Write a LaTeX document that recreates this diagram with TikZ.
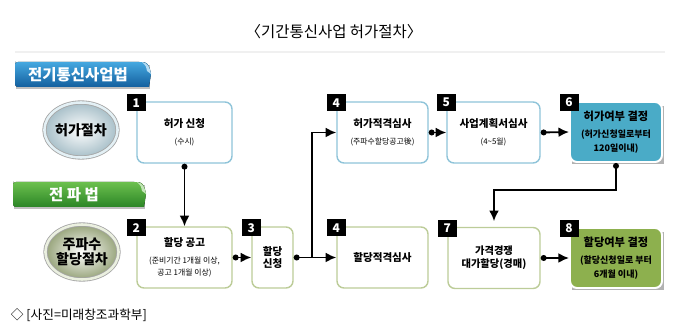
\documentclass[tikz,border=0pt]{standalone}
\usepackage{fontspec}
\setmainfont{Noto Sans CJK KR}
\usepackage{xcolor}
\usetikzlibrary{arrows.meta,shapes.geometric,shadows}

\definecolor{permline}{HTML}{8FC4D9}
\definecolor{allocline}{HTML}{BCCC98}
\definecolor{permfill}{HTML}{4AABC7}
\definecolor{allocfill}{HTML}{8DB04E}
\definecolor{lawblueA}{HTML}{45A8E0}
\definecolor{lawblueB}{HTML}{135F9E}
\definecolor{lawgreenA}{HTML}{6CC04E}
\definecolor{lawgreenB}{HTML}{2B8526}
\newcommand{\subtxt}{\fontsize{5.6}{6.8}\selectfont\mdseries}
\newcommand{\restxt}{\fontsize{6.4}{7.6}\selectfont}

\begin{document}
\begin{tikzpicture}[x=0.025cm, y=-0.025cm,
  proc/.style={draw, rounded corners=5pt, line width=1pt, fill=white,
    minimum height=1.525cm, inner sep=1pt, align=center,
    font=\fontsize{7.5}{9}\selectfont\bfseries},
  permproc/.style={proc, draw=permline},
  allocproc/.style={proc, draw=allocline},
  result/.style={proc, draw=white, line width=1.4pt, minimum height=1.5cm,
    font=\fontsize{8}{9.5}\selectfont\bfseries},
  badge/.style={fill=black, text=white, minimum width=0.475cm,
    minimum height=0.425cm, inner sep=0pt, yshift=-1pt,
    font=\fontsize{8.5}{9}\selectfont\bfseries},
  phase/.style={ellipse, minimum width=1.55cm, minimum height=1.375cm,
    inner sep=0pt, align=center, double distance=1.8pt, line width=0.6pt,
    font=\fontsize{10}{11.5}\selectfont\bfseries},
  lawtag/.style={text=white, font=\fontsize{11}{12}\selectfont\bfseries},
  link/.style={{Circle[length=4.2pt]}-{Latex[length=7.5pt,width=7pt]},
    line width=1.3pt},
  branch/.style={-{Latex[length=7.5pt,width=7pt]}, line width=1.3pt},
  every node/.style={font=\small}
 ]
\useasboundingbox (0,0) rectangle (680,327);

% title and rule
\node[font=\fontsize{11}{12}\selectfont] (title) at (334,32) {〈기간통신사업 허가절차〉};
\draw[black!6, line width=0.8pt] (15,52) -- (665,52);

% law banners
\fill[black!25] (16,65) rectangle (150,89);
\fill[top color=lawblueA, bottom color=lawblueB]
  (15,64) [rounded corners=2pt] -- (15,62) -- (142,62)
  [sharp corners] .. controls (148,63) and (150,68) .. (151,74)
  -- (149,87) [rounded corners=2pt] -- (15,87) -- cycle;
\fill[lawblueA!40!white] (142,62) .. controls (146,66) .. (147,71)
  -- (151,74) .. controls (150,68) and (148,63) .. (142,62);
\node[lawtag] (lawA) at (78,74.5) {전기통신사업법};

\fill[black!25] (14,185) rectangle (145,209);
\fill[top color=lawgreenA, bottom color=lawgreenB]
  (13,184) [rounded corners=2pt] -- (13,182) -- (137,182)
  [sharp corners] .. controls (143,183) and (145,188) .. (146,194)
  -- (144,207) [rounded corners=2pt] -- (13,207) -- cycle;
\fill[lawgreenA!40!white] (137,182) .. controls (141,186) .. (142,191)
  -- (146,194) .. controls (145,188) and (143,183) .. (137,182);
\node[lawtag] (lawB) at (74,194.5) {전 파 법};

% phase circles
\node[phase, draw=black!35, double=permline!25!white,
  inner color=white, outer color=black!25!permline!60!white] (stageA) at (81,130) {허가절차};
\node[phase, draw=black!35, double=allocline!30!white,
  inner color=white, outer color=black!20!allocline] (stageB) at (82,252) {주파수\\[-1pt]할당절차};

% permit row
\node[permproc, minimum width=2.375cm] (b1) at (184.5,132.5)
  {허가 신청\\[3pt]\subtxt (수시)};
\node[permproc, minimum width=2.275cm] (b4t) at (382.5,132.5)
  {허가적격심사\\[3pt]\subtxt (주파수할당공고後)};
\node[permproc, minimum width=2.325cm] (b5) at (493.5,132.5)
  {사업계획서심사\\[3pt]\subtxt (4\textasciitilde5월)};
\fill[black!30] (572,106) rectangle (664,164);
\node[result, fill=permfill, minimum width=2.3cm] (b6) at (616,132)
  {허가여부 결정\\[3pt]\restxt (허가신청일로부터\\\restxt 120일이내)};

% allocation row
\node[allocproc, minimum width=2.375cm] (b2) at (184.5,257.5)
  {할당 공고\\[3pt]\subtxt (준비기간 1개월 이상,\\\subtxt 공고 1개월 이상)};
\node[allocproc, minimum width=1.025cm] (b3) at (272.5,257.5) {할당\\신청};
\node[allocproc, minimum width=2.275cm] (b4b) at (382.5,257.5) {할당적격심사};
\node[allocproc, minimum width=2.3cm, font=\fontsize{7.3}{9.5}\selectfont\bfseries] (b7) at (494,258)
  {가격경쟁\\대가할당(경매)};
\fill[black!30] (572,232) rectangle (664,290);
\node[result, fill=allocfill, minimum width=2.3cm] (b8) at (616,258)
  {할당여부 결정\\[3pt]\restxt (할당신청일로 부터\\\restxt 6개월 이내)};

% step badges
\foreach \b/\n in {b1/1, b2/2, b3/3, b4t/4, b4b/4, b5/5, b6/6, b7/7, b8/8}
  \node[badge] (n\n\b) at (\b.north west) {\n};

% connectors
\coordinate (fork) at (312,257.5);
\coordinate (turn) at (616,190);
\draw[link] (b1.south) -- (b2.north);
\draw[link] (b2.east) -- (b3.west);
\draw[link] (b3.east) -- (b4b.west);
\draw[branch] (fork) |- (b4t.west);
\draw[link] (b4t.east) -- (b5.west);
\draw[link] (b5.east) -- (b6.west);
\draw[link, shorten >=4pt] (b6.south) -- (turn) -| (b7.north);
\draw[link] (b7.east) -- (b8.west);

% source note
\node[anchor=west, font=\fontsize{9}{10}\selectfont] (credit) at (6,315)
  {◇ [사진=미래창조과학부]};
\end{tikzpicture}
\end{document}
